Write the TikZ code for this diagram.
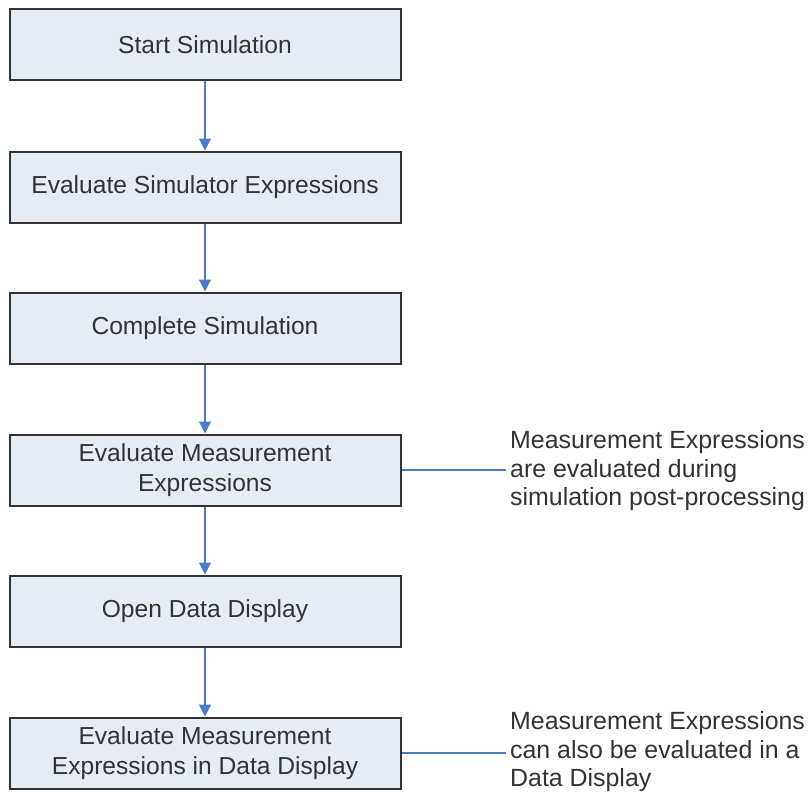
\documentclass[tikz,border=0pt]{standalone}
\usepackage{fontspec}
\setmainfont{Liberation Sans}
\usetikzlibrary{arrows.meta}
\definecolor{boxfill}{HTML}{E6ECF6}
\definecolor{boxdraw}{HTML}{333333}
\definecolor{arrowblue}{HTML}{4A7CC8}
\definecolor{textgray}{HTML}{333333}
\begin{document}
\begin{tikzpicture}[x=1pt,y=-1pt,
  stepbox/.style={draw=boxdraw, fill=boxfill, line width=2pt, minimum width=391pt, minimum height=71pt, inner sep=0pt, align=center, text=textgray, font=\fontsize{24.6}{30}\selectfont},
  note/.style={anchor=west, align=left, inner sep=0pt, text=textgray, font=\fontsize{24.9}{28.5}\selectfont},
  flow/.style={draw=arrowblue, line width=1.2pt, -{Triangle[length=12pt,width=12pt]}},
  link/.style={draw=arrowblue, line width=1.2pt}]
\useasboundingbox (0,0) rectangle (809,792);
\node[stepbox] (b1) at (205,45) {Start Simulation};
\node[stepbox] (b2) at (205,187) {Evaluate Simulator Expressions};
\node[stepbox] (b3) at (205,328) {Complete Simulation};
\node[stepbox] (b4) at (205,470) {Evaluate Measurement\\Expressions};
\node[stepbox] (b5) at (205,611) {Open Data Display};
\node[stepbox] (b6) at (205,753) {Evaluate Measurement\\Expressions in Data Display};
\draw[flow] (b1) -- (b2);
\draw[flow] (b2) -- (b3);
\draw[flow] (b3) -- (b4);
\draw[flow] (b4) -- (b5);
\draw[flow] (b5) -- (b6);
\node[note] (n1) at (510,471) {Measurement Expressions\\are evaluated during\\simulation post-processing};
\node[note] (n2) at (510,752) {Measurement Expressions\\can also be evaluated in a\\Data Display};
\draw[link] (b4.east) -- ([xshift=-4pt]b4.east -| n1.west);
\draw[link] (b6.east) -- ([xshift=-4pt]b6.east -| n2.west);
\end{tikzpicture}
\end{document}
